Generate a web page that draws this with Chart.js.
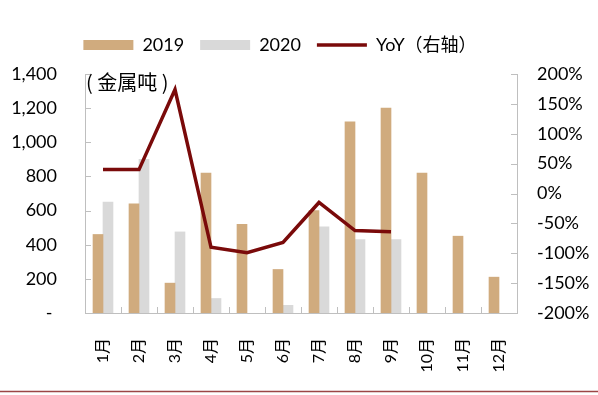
<!DOCTYPE html>
<html>
<head>
<meta charset="utf-8">
<script src="https://cdn.jsdelivr.net/npm/chart.js@4"></script>
<style>
  html, body { margin: 0; padding: 0; background: #fff; }
  #wrap { width: 598px; height: 395px; }
</style>
</head>
<body>
<div id="wrap"><canvas id="myChart" width="598" height="395"></canvas></div>
<script>
// 月份
const months = ["1月", "2月", "3月", "4月", "5月", "6月", "7月", "8月", "9月", "10月", "11月", "12月"];
// 金属吨
const y2019 = [460, 640, 175, 820, 520, 255, 600, 1120, 1200, 820, 450, 210];
const y2020 = [650, 900, 475, 85, null, 45, 505, 430, 430, null, null, null];
// YoY (%), right axis
const yoy = [40, 40, 174, -90, -99, -82, -15, -62, -64, null, null, null];
const leftTicks = [0, 200, 400, 600, 800, 1000, 1200, 1400];
const rightTicks = [-200, -150, -100, -50, 0, 50, 100, 150, 200];

const axisColor = "#BFBFBF";
const fontMain = "Lato, 'Noto Sans CJK SC', sans-serif";

// inward tick marks, unit label and bottom rule
const decor = {
    id: "decor",
    beforeInit(chart) {
        const fit = chart.legend.fit;
        chart.legend.fit = function () {
            fit.call(this);
            this.height = 54;
        };
    },
    afterLayout(chart) {
        chart.legend.left = 0;
        chart.legend.right = 560;
    },
    afterDraw(chart) {
        const c = chart.ctx;
        const area = chart.chartArea;
        const x = chart.scales.x;
        const y = chart.scales.y;
        const y1 = chart.scales.y1;
        c.save();
        c.strokeStyle = axisColor;
        c.lineWidth = 1;
        c.beginPath();
        for (let i = 0; i <= months.length; i++) {
            const px = Math.round(x.getPixelForValue(i - 0.5)) + 0.5;
            c.moveTo(px, area.bottom);
            c.lineTo(px, area.bottom - 6);
        }
        leftTicks.forEach(v => {
            const py = Math.round(y.getPixelForValue(v)) + 0.5;
            c.moveTo(area.left, py);
            c.lineTo(area.left + 6, py);
        });
        rightTicks.forEach(v => {
            const py = Math.round(y1.getPixelForValue(v)) + 0.5;
            c.moveTo(area.right, py);
            c.lineTo(area.right - 6, py);
        });
        c.stroke();

        c.fillStyle = "#000";
        c.font = "20px 'Noto Sans CJK SC'";
        c.textBaseline = "middle";
        c.textAlign = "left";
        c.fillText("( 金属吨 )", area.left + 1, area.top + 8);

        c.strokeStyle = "#9C4545";
        c.lineWidth = 1.5;
        c.beginPath();
        c.moveTo(0, 391.5);
        c.lineTo(chart.width, 391.5);
        c.stroke();
        c.restore();
    }
};

new Chart(document.querySelector("#myChart"), {
    data: {
        labels: months,
        datasets: [{
            type: "bar",
            label: "2019",
            data: y2019,
            backgroundColor: "#D0AB7E",
            borderWidth: 0,
            barThickness: 10,
            pointStyle: "rect",
            yAxisID: "y",
            order: 1
        }, {
            type: "bar",
            label: "2020",
            data: y2020,
            backgroundColor: "#D9D9D9",
            borderWidth: 0,
            barThickness: 10,
            pointStyle: "rect",
            yAxisID: "y",
            order: 1
        }, {
            type: "line",
            label: "YoY（右轴）",
            data: yoy,
            borderColor: "#7A0A0A",
            backgroundColor: "#7A0A0A",
            borderWidth: 3.5,
            pointRadius: 0,
            pointStyle: "line",
            tension: 0,
            spanGaps: false,
            yAxisID: "y1",
            order: 0
        }]
    },
    options: {
        responsive: false,
        animation: false,
        layout: { padding: { left: 0, right: 0, top: 20, bottom: 0 } },
        plugins: {
            tooltip: { enabled: false },
            legend: {
                position: "top",
                align: "center",
                labels: {
                    usePointStyle: true,
                    pointStyleWidth: 50,
                    boxHeight: 10,
                    padding: 16,
                    color: "#000",
                    font: { family: fontMain, size: 18 },
                    sort: (a, b) => a.datasetIndex - b.datasetIndex
                }
            }
        },
        scales: {
            x: {
                offset: true,
                grid: { display: false, drawTicks: false },
                border: { display: true, color: axisColor },
                afterFit: s => { s.height = 82; },
                ticks: {
                    minRotation: 90,
                    maxRotation: 90,
                    padding: 25,
                    color: "#000",
                    font: { family: fontMain, size: 16 }
                }
            },
            y: {
                position: "left",
                min: 0,
                max: 1400,
                grid: { display: false, drawTicks: false },
                border: { display: true, color: axisColor },
                afterFit: s => { s.width = 85; },
                ticks: {
                    stepSize: 200,
                    padding: 28,
                    color: "#000",
                    font: { family: fontMain, size: 18 },
                    callback: v => v === 0 ? "- " : v.toLocaleString("en-US")
                }
            },
            y1: {
                position: "right",
                min: -200,
                max: 200,
                grid: { display: false, drawTicks: false },
                border: { display: true, color: axisColor },
                afterFit: s => { s.width = 81; },
                ticks: {
                    stepSize: 50,
                    padding: 20,
                    color: "#000",
                    font: { family: fontMain, size: 18 },
                    callback: v => v + "%"
                }
            }
        }
    },
    plugins: [decor]
});
</script>
</body>
</html>
